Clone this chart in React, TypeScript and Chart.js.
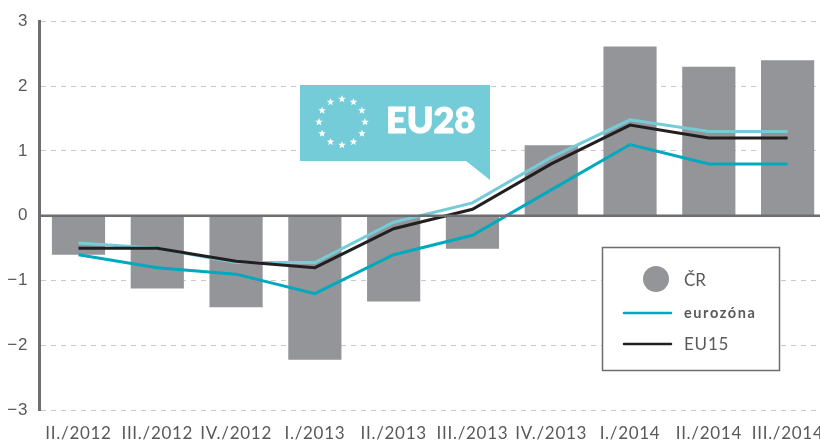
import React, { useEffect, useRef } from "react";
import { Chart, registerables } from "chart.js";

Chart.register(...registerables);

const categories = ["II./2012", "III./2012", "IV./2012", "I./2013", "II./2013", "III./2013", "IV./2013", "I./2014", "II./2014", "III./2014"];
const cr = [-0.6, -1.12, -1.41, -2.22, -1.32, -0.51, 1.09, 2.61, 2.3, 2.4];
const eurozona = [-0.6, -0.8, -0.9, -1.2, -0.6, -0.3, 0.4, 1.1, 0.8, 0.8];
const eu15 = [-0.5, -0.5, -0.7, -0.8, -0.2, 0.1, 0.8, 1.4, 1.2, 1.2];
const eu28 = [-0.42, -0.5, -0.72, -0.72, -0.1, 0.2, 0.9, 1.48, 1.3, 1.3];

const TEXT = "#58595b";
const FONT = "Lato, sans-serif";

function starPoints(cx: number, cy: number, r: number) {
  const pts: string[] = [];
  for (let i = 0; i < 10; i++) {
    const a = -Math.PI / 2 + (i * Math.PI) / 5;
    const rr = i % 2 === 0 ? r : r * 0.42;
    pts.push(`${cx + rr * Math.cos(a)},${cy + rr * Math.sin(a)}`);
  }
  return pts.join(" ");
}

const spacingPlugin = {
  id: "spacing",
  beforeDraw(chart: any) {
    chart.ctx.letterSpacing = "0.7px";
  },
};

const zeroLinePlugin = {
  id: "zeroLine",
  afterDatasetsDraw(chart: any) {
    const { ctx, chartArea, scales } = chart;
    const y = scales.y.getPixelForValue(0);
    ctx.save();
    ctx.strokeStyle = "#6d6e71";
    ctx.lineWidth = 2.5;
    ctx.beginPath();
    ctx.moveTo(chartArea.left, y);
    ctx.lineTo(chartArea.right, y);
    ctx.stroke();
    ctx.restore();
  },
};

export default function App() {
  const ref = useRef<HTMLCanvasElement>(null);
  useEffect(() => {
    const chart = new Chart(ref.current!, {
      type: "bar",
      plugins: [spacingPlugin, zeroLinePlugin],
      data: {
        labels: categories,
        datasets: [
          { type: "line", label: "EU28", data: eu28, borderColor: "#74ccd9", borderWidth: 3, pointRadius: 0, tension: 0, order: 3 },
          { type: "line", label: "eurozóna", data: eurozona, borderColor: "#00a9bd", borderWidth: 3, pointRadius: 0, tension: 0, order: 2 },
          { type: "line", label: "EU15", data: eu15, borderColor: "#231f20", borderWidth: 3, pointRadius: 0, tension: 0, order: 1 },
          { type: "bar", label: "ČR", data: cr, backgroundColor: "#939598", barPercentage: 0.675, categoryPercentage: 1, order: 4 },
        ],
      },
      options: {
        animation: false,
        responsive: false,
        layout: { padding: { left: 0, right: 0, top: 21.3, bottom: 0 } },
        plugins: { legend: { display: false }, tooltip: { enabled: false } },
        scales: {
          x: {
            afterFit: (s: any) => { s.height = 30.7; s.paddingLeft = 0; s.paddingRight = 0; },
            grid: { display: false },
            border: { display: false },
            ticks: {
              color: TEXT,
              font: { family: FONT, size: 17 },
              maxRotation: 0,
              autoSkip: false,
              padding: 5,
            },
          },
          y: {
            min: -3,
            max: 3,
            afterFit: (s: any) => { s.width = 39.1; },
            grid: {
              color: "#c8c8c8",
              lineWidth: 1,
              drawTicks: false,
            },
            border: { display: true, color: "#6d6e71", width: 3, dash: [5, 5] },
            ticks: {
              color: TEXT,
              stepSize: 1,
              padding: 11,
              font: { family: "'Liberation Sans', sans-serif", size: 17 },
              callback: (v: any) => (Number(v) < 0 ? "−" + Math.abs(Number(v)) : String(v)),
            },
          },
        },
      },
    } as any);
    return () => chart.destroy();
  }, []);

  const stars = Array.from({ length: 12 }, (_, i) => {
    const a = (i * Math.PI) / 6;
    return starPoints(342 + 23 * Math.cos(a), 122 + 23 * Math.sin(a), 4);
  });

  return (
    <div style={{ position: "fixed", left: 0, top: 0, width: 820, height: 441, overflow: "hidden", background: "#fff" }}>
      <canvas ref={ref} width={827} height={441} style={{ position: "absolute", left: 0, top: 0, width: 827, height: 441 }} />
      <svg width={820} height={441} style={{ position: "absolute", left: 0, top: 0 }}>
        <polygon points="300,85 490,85 490,180 466,161 300,161" fill="#74ccd9" />
        {stars.map((p, i) => <polygon key={i} points={p} fill="#fff" />)}
        <text x={386} y={133} fill="#fff" stroke="#fff" strokeWidth={1.2} fontFamily={FONT} fontWeight={900} fontSize={36}>EU28</text>
        <rect x={602.5} y={247.5} width={177} height={123} fill="#fff" stroke="#6d6e71" strokeWidth={1.5} />
        <circle cx={656} cy={279} r={13} fill="#939598" />
        <line x1={624} x2={671} y1={313} y2={313} stroke="#00a9bd" strokeWidth={2.5} strokeLinecap="round" />
        <line x1={624} x2={671} y1={344} y2={344} stroke="#231f20" strokeWidth={2.5} strokeLinecap="round" />
        <text x={684} y={286} fill={TEXT} fontFamily={FONT} fontSize={17}>ČR</text>
        <text x={684} y={318} fill={TEXT} fontFamily={FONT} fontSize={14.5} fontWeight={700} letterSpacing={1.6}>eurozóna</text>
        <text x={684} y={350} fill={TEXT} fontFamily={FONT} fontSize={17} letterSpacing={0.8}>EU15</text>
      </svg>
    </div>
  );
}
